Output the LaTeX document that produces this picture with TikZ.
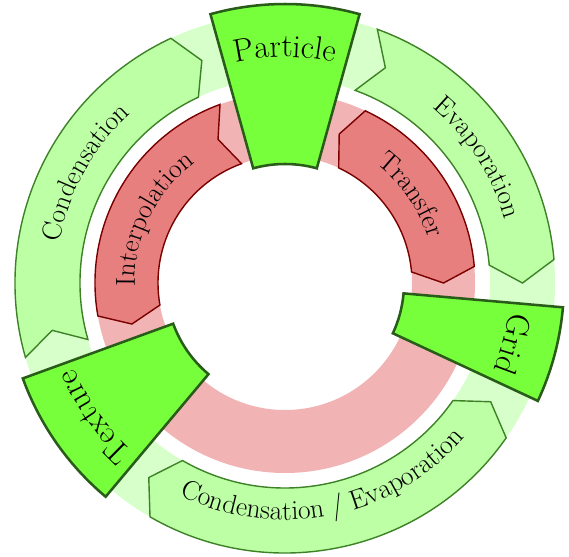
\documentclass[tikz,border=0pt]{standalone}
\usepackage{tikz}
\usepackage{xcolor}
\usetikzlibrary{decorations.text}
\definecolor{ringgreen}{RGB}{214,255,202}
\definecolor{flowgreen}{RGB}{189,255,165}
\definecolor{flowgreenline}{RGB}{62,130,40}
\definecolor{stagegreen}{RGB}{120,255,60}
\definecolor{stageline}{RGB}{40,92,24}
\definecolor{ringred}{RGB}{241,179,179}
\definecolor{flowred}{RGB}{231,127,127}
\definecolor{flowredline}{RGB}{122,0,0}

\newcommand{\stagefont}{\fontsize{23}{27}\selectfont}
\newcommand{\flowfont}{\fontsize{19.5}{23}\selectfont}

% arc arrow: style, start, start tip, end, end tip, inner r, outer r
\newcommand{\ringarrow}[7]{%
  \draw[#1] (#2:#7) arc[start angle=#2, end angle=#4, radius=#7]
    -- (#5:{(#6+#7)/2}) -- (#4:#6)
    arc[start angle=#4, end angle=#2, radius=#6]
    -- (#3:{(#6+#7)/2}) -- cycle;}

% ring sector: style, from, to
\newcommand{\ringstage}[3]{%
  \draw[#1] (#2:119) -- (#2:279) arc[start angle=#2, end angle=#3, radius=279]
    -- (#3:119) arc[start angle=#3, end angle=#2, radius=119] -- cycle;}

% text on an arc: font, from, to, radius, text
\newcommand{\ringlabel}[5]{%
  \path[decorate, decoration={text along path, text align=center, text={|#1|#5}}]
    (#2:#4) arc[start angle=#2, end angle=#3, radius=#4];}

\begin{document}
\begin{tikzpicture}[x=0.025cm, y=0.025cm,
    flowg/.style={fill=flowgreen, draw=flowgreenline, line width=1pt, line join=miter},
    flowr/.style={fill=flowred, draw=flowredline, line width=1pt, line join=miter},
    stage/.style={fill=stagegreen, draw=stageline, line width=1.8pt, line join=miter}]
  \useasboundingbox (-285,-273) rectangle (284,283);

  % Draw the two background rings
  \fill[ringgreen, even odd rule] (0,0) circle[radius=270] (0,0) circle[radius=205];
  \fill[ringred, even odd rule] (0,0) circle[radius=190] (0,0) circle[radius=127];

  % Inner arrows
  \ringarrow{flowr}{110}{115}{190}{195}{127}{190}
  \ringarrow{flowr}{65}{70}{5}{0}{127}{190}

  % Outer arrows
  \ringarrow{flowg}{196}{191.5}{115}{110.5}{205}{270}
  \ringarrow{flowg}{70}{65}{5}{0}{205}{270}
  \ringarrow{flowg}{240}{235}{325}{330}{205}{270}

  % Stages
  \ringstage{stage}{105.5}{74.5}
  \ringstage{stage}{-5}{-25}
  \ringstage{stage}{230}{200}

  % Stage labels
  \ringlabel{\stagefont}{115}{65}{226}{Particle}
  \ringlabel{\stagefont}{10}{-40}{226}{Grid}
  \ringlabel{\stagefont}{240}{190}{227}{Texture}

  % Arrow labels
  \ringlabel{\flowfont}{196}{106}{229}{Condensation}
  \ringlabel{\flowfont}{78}{-12}{229}{Evaporation}
  \ringlabel{\flowfont}{226.5}{336.5}{237}{Condensation / Evaporation}
  \ringlabel{\flowfont}{200}{108}{150}{Interpolation}
  \ringlabel{\flowfont}{82}{-12}{150}{Transfer}
\end{tikzpicture}
\end{document}
